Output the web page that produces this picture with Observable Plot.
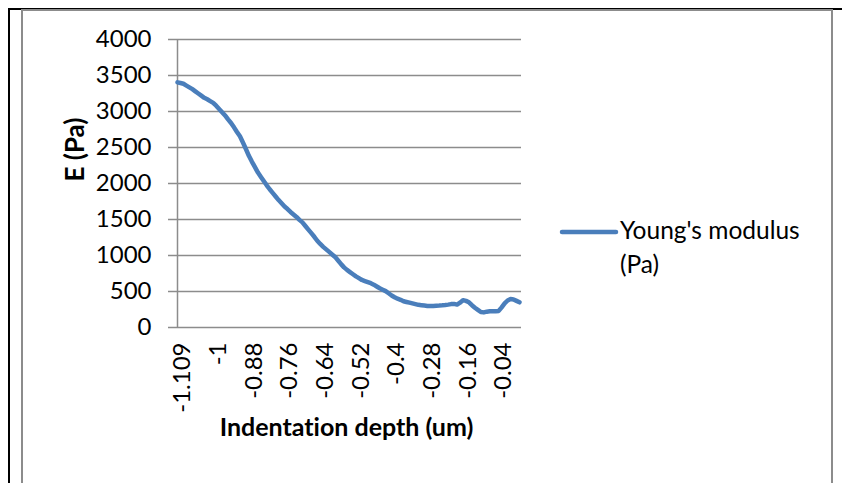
<!DOCTYPE html>
<html><head><meta charset="utf-8">
<script src="https://cdn.jsdelivr.net/npm/d3@7"></script>
<script src="https://cdn.jsdelivr.net/npm/@observablehq/plot@0.6"></script>
<style>
html,body{margin:0;padding:0;background:#fff;}
#wrap{position:relative;width:842px;height:483px;overflow:hidden;background:#fff;font-family:Lato,sans-serif;font-variant-ligatures:none;}
#wrap svg text{font-variant-ligatures:none;}
.blk{position:absolute;background:#000;}
#box{position:absolute;left:21px;top:9px;width:808px;height:520px;border:2px solid #8c8c8c;}
#chart{position:absolute;left:0;top:0;}
#legend{position:absolute;left:0;top:0;}
</style></head><body>
<div id="wrap">
  <div class="blk" style="left:8px;top:8px;width:834px;height:2px"></div>
  <div class="blk" style="left:8px;top:8px;width:2px;height:475px"></div>
  <div id="box"></div>
  <div id="chart"></div>
  <svg id="legend" width="842" height="483"></svg>
</div>
<script>
const depth = [
"-1.109","-1.1","-1.091","-1.082","-1.073","-1.064","-1.055","-1.045","-1.036","-1.027","-1.018","-1.009",
"-1","-0.99","-0.98","-0.97","-0.96","-0.95","-0.94","-0.93","-0.92","-0.91","-0.9","-0.89",
"-0.88","-0.87","-0.86","-0.85","-0.84","-0.83","-0.82","-0.81","-0.8","-0.79","-0.78","-0.77",
"-0.76","-0.75","-0.74","-0.73","-0.72","-0.71","-0.7","-0.69","-0.68","-0.67","-0.66","-0.65",
"-0.64","-0.63","-0.62","-0.61","-0.6","-0.59","-0.58","-0.57","-0.56","-0.55","-0.54","-0.53",
"-0.52","-0.51","-0.5","-0.49","-0.48","-0.47","-0.46","-0.45","-0.44","-0.43","-0.42","-0.41",
"-0.4","-0.39","-0.38","-0.37","-0.36","-0.35","-0.34","-0.33","-0.32","-0.31","-0.3","-0.29",
"-0.28","-0.27","-0.26","-0.25","-0.24","-0.23","-0.22","-0.21","-0.2","-0.19","-0.18","-0.17",
"-0.16","-0.15","-0.14","-0.13","-0.12","-0.11","-0.1","-0.09","-0.08","-0.07","-0.06","-0.05",
"-0.04","-0.03","-0.02","-0.01","0","0.01","0.02","0.03"
];
const modulus = [
3405,3395,3385,3360,3335,3310,3280,3250,3220,3190,3170,3145,
3120,3080,3035,2990,2945,2890,2840,2780,2715,2655,2570,2480,
2385,2305,2230,2155,2095,2035,1975,1920,1870,1820,1770,1725,
1680,1645,1605,1570,1535,1495,1460,1410,1360,1310,1260,1205,
1160,1120,1085,1050,1015,980,930,880,835,800,770,740,
710,685,660,645,630,615,595,570,545,525,505,475,
445,420,400,385,365,355,345,335,325,315,310,305,
300,298,300,303,305,308,312,318,325,328,318,345,
380,370,350,310,275,245,215,210,220,225,225,225,
230,280,335,375,395,390,370,350
];
const xTickLabels = ["-1.109","-1","-0.88","-0.76","-0.64","-0.52","-0.4","-0.28","-0.16","-0.04"];
const yTicks = [0,500,1000,1500,2000,2500,3000,3500,4000];
const seriesName = ["Young's modulus", "(Pa)"];
const xTitle = "Indentation depth (um)";
const yTitle = "E (Pa)";
const lineColor = "#4a7ebb";

const data = depth.map((d, i) => ({depth: d, E: modulus[i]}));

const chart = Plot.plot({
  width: 842, height: 483,
  marginLeft: 177, marginRight: 323, marginTop: 39, marginBottom: 156,
  style: "font-family: Lato, sans-serif; font-size: 24px; color: #000; background: transparent; overflow: visible;",
  x: {type: "point", domain: depth, padding: 0},
  y: {domain: [0, 4000]},
  marks: [
    Plot.ruleY(yTicks, {stroke: "#8c8c8c", strokeWidth: 1.5, insetLeft: -9, insetRight: -2}),
    Plot.ruleX([depth[0]], {y1: 0, y2: 4000, stroke: "#8c8c8c", strokeWidth: 1.5}),
    Plot.axisY({ticks: yTicks, tickFormat: d => String(d), tickSize: 0, tickPadding: 26, label: null, fill: "#000"}),
    Plot.axisX({ticks: xTickLabels, tickSize: 0, tickPadding: 15, tickRotate: -90, label: null, fill: "#000", dx: 5}),
    Plot.line(data, {x: "depth", y: "E", stroke: lineColor, strokeWidth: 4.5, strokeLinejoin: "round", strokeLinecap: "round"}),
    Plot.text([yTitle], {frameAnchor: "left", dx: -102, dy: -2, rotate: -90, fontWeight: "bold", fontSize: 26, fill: "#000"}),
    Plot.text([xTitle], {frameAnchor: "bottom", dx: -2, dy: 108, fontWeight: "bold", fontSize: 25, fill: "#000"})
  ]
});
document.getElementById("chart").appendChild(chart);

const lg = d3.select("#legend");
lg.append("line").attr("x1", 562).attr("x2", 616).attr("y1", 232).attr("y2", 232)
  .attr("stroke", lineColor).attr("stroke-width", 4.5).attr("stroke-linecap", "round");
lg.selectAll("text.lab").data(seriesName).join("text")
  .attr("x", 620).attr("y", (d, i) => 239 + i * 34)
  .attr("font-family", "Lato, sans-serif").attr("font-size", 24.5).attr("fill", "#000")
  .style("font-variant-ligatures", "none")
  .text(d => d);
</script>
</body></html>
